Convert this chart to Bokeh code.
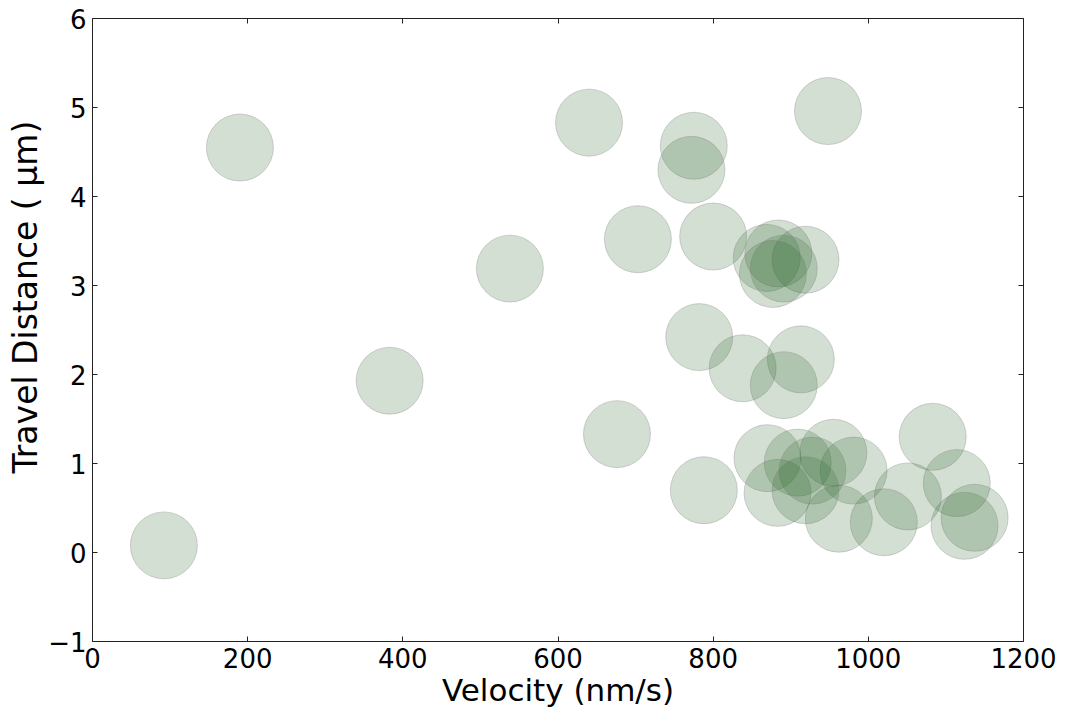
from bokeh.plotting import figure
from bokeh.models import LinearAxis, FixedTicker, ColumnDataSource, Range1d, Title
from bokeh.embed import file_html
from bokeh.resources import INLINE

velocity = [92, 190, 383, 538, 640, 676, 703, 775, 772, 782, 788, 800, 838,
            869, 884, 919, 877, 891, 913, 891, 1083, 1114, 1137, 1124, 1051,
            1020, 981, 955, 962, 870, 883, 909, 928, 919, 948]
distance = [0.08, 4.55, 1.93, 3.19, 4.83, 1.33, 3.52, 4.57, 4.30, 2.42, 0.70,
            3.55, 2.07, 3.31, 3.36, 3.29, 3.13, 3.19, 2.17, 1.88, 1.30, 0.78,
            0.39, 0.30, 0.63, 0.34, 0.92, 1.12, 0.38, 1.06, 0.67, 1.01, 0.92,
            0.70, 4.96]
x_ticks = [0, 200, 400, 600, 800, 1000, 1200]
y_ticks = [-1, 0, 1, 2, 3, 4, 5, 6]
x_label = "Velocity (nm/s)"
y_label = "Travel Distance ( μm)"

FONT = "DejaVu Sans"

p = figure(width=1068, height=714, output_backend="svg", toolbar_location=None,
           x_range=Range1d(0, 1200), y_range=Range1d(-1, 6),
           x_axis_location=None, y_axis_location=None,
           min_border_left=92, min_border_right=45, min_border_top=18,
           min_border_bottom=73)
p.xgrid.visible = False
p.ygrid.visible = False
p.outline_line_color = "#222222"
p.outline_line_width = 1
p.background_fill_color = "white"
p.border_fill_color = "white"

src = ColumnDataSource(dict(x=velocity, y=distance))
p.scatter("x", "y", source=src, marker="circle", size=67,
          fill_color="#2f6a2f", fill_alpha=0.21,
          line_color="#777777", line_alpha=0.3, line_width=1)


def make_axis(show_labels, label=None):
    ax = LinearAxis()
    ax.axis_line_color = None
    ax.major_tick_in = 5
    ax.major_tick_out = 0
    ax.minor_tick_in = 0
    ax.minor_tick_out = 0
    ax.major_tick_line_color = "#222222"
    ax.major_label_text_font = FONT
    ax.major_label_text_font_size = "26px"
    ax.major_label_text_color = "black"
    ax.major_label_standoff = 6
    if not show_labels:
        ax.major_label_text_alpha = 0
        ax.major_label_text_font_size = "1px"
    if label:
        ax.axis_label = label
        ax.axis_label_text_font = FONT
        ax.axis_label_text_font_size = "31px"
        ax.axis_label_text_font_style = "normal"
        ax.axis_label_text_color = "black"
        ax.axis_label_standoff = 1
    return ax


xb = make_axis(True, x_label)
xb.ticker = FixedTicker(ticks=x_ticks)
p.add_layout(xb, "below")
yl = make_axis(True)
yl.ticker = FixedTicker(ticks=y_ticks)
yl.major_label_overrides = {-1: "\u22121"}
p.add_layout(yl, "left")
xt = make_axis(False)
xt.ticker = FixedTicker(ticks=x_ticks)
p.add_layout(xt, "above")
yr = make_axis(False)
yr.ticker = FixedTicker(ticks=y_ticks)
p.add_layout(yr, "right")

ytitle = Title(text=y_label, align="left", offset=168, standoff=2,
               text_font=FONT, text_font_size="33px", text_font_style="normal",
               text_color="black")
p.add_layout(ytitle, "left")

open("out.html", "w").write(file_html(p, INLINE))
